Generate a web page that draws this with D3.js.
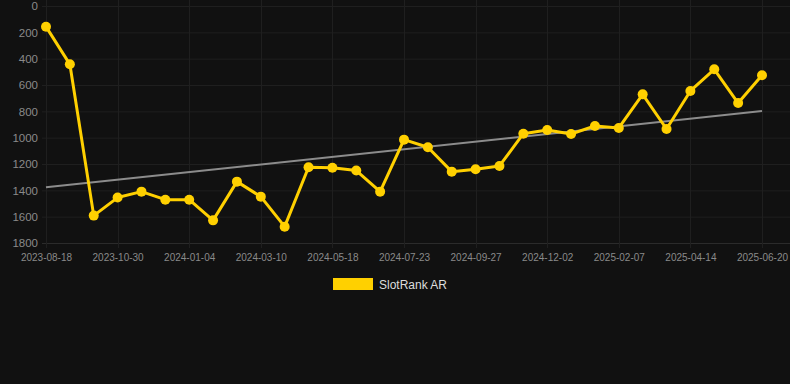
<!DOCTYPE html>
<html><head><meta charset="utf-8">
<script src="https://cdn.jsdelivr.net/npm/d3@7"></script>
<style>html,body{margin:0;padding:0;background:#111111;}svg{display:block;}</style>
</head><body>
<svg id="c" width="790" height="384"></svg>
<script>
const dates = ["2023-08-18","2023-09-12","2023-10-06","2023-10-30","2023-11-21","2023-12-13","2024-01-04","2024-01-26","2024-02-17","2024-03-10","2024-04-01","2024-04-25","2024-05-18","2024-06-09","2024-07-01","2024-07-23","2024-08-14","2024-09-05","2024-09-27","2024-10-19","2024-11-10","2024-12-02","2024-12-24","2025-01-15","2025-02-07","2025-03-01","2025-03-23","2025-04-14","2025-05-06","2025-05-28","2025-06-20"];
const ranks = [157,443,1592,1455,1410,1471,1471,1628,1334,1448,1676,1225,1228,1250,1410,1015,1073,1258,1240,1215,970,942,972,911,926,671,934,645,481,737,526];
const yTicks = [0,200,400,600,800,1000,1200,1400,1600,1800];
const seriesName = "SlotRank AR";

const svg = d3.select("#c");
const x = d3.scalePoint().domain(dates).range([46, 762]);
const y = d3.scaleLinear().domain([0, 1800]).range([6, 243]);

// grid
const g = svg.append("g");
g.selectAll("line.h").data(yTicks).join("line")
  .attr("x1", 42).attr("x2", 790)
  .attr("y1", d => y(d) + 0.5).attr("y2", d => y(d) + 0.5)
  .attr("stroke", d => d === 1800 ? "#2b2b2b" : "#1f1f1f").attr("stroke-width", 1);
const labelDates = dates.filter((d, i) => i % 3 === 0);
g.selectAll("line.v").data(labelDates).join("line")
  .attr("x1", d => Math.round(x(d)) + 0.5).attr("x2", d => Math.round(x(d)) + 0.5)
  .attr("y1", 0).attr("y2", 248)
  .attr("stroke", "#1f1f1f").attr("stroke-width", 1);

// y axis labels
const yAxis = d3.axisLeft(y).tickValues(yTicks).tickFormat(d3.format("d")).tickSize(0).tickPadding(0);
const ya = svg.append("g").attr("transform", "translate(38,0)").call(yAxis);
ya.select(".domain").remove();
ya.selectAll("text").attr("fill", "#8a8a8a").attr("font-family", "Liberation Sans, Arial, sans-serif").attr("font-size", 11.5);

// x axis labels
const xAxis = d3.axisBottom(x).tickValues(labelDates).tickSize(0).tickPadding(0);
const xa = svg.append("g").attr("transform", "translate(0,254)").call(xAxis);
xa.select(".domain").remove();
xa.selectAll("text").attr("fill", "#8a8a8a").attr("font-family", "Liberation Sans, Arial, sans-serif").attr("font-size", 10);

// trend line (least squares)
const n = ranks.length;
const mx = (n - 1) / 2, my = d3.mean(ranks);
let sxy = 0, sxx = 0;
ranks.forEach((v, i) => { sxy += (i - mx) * (v - my); sxx += (i - mx) * (i - mx); });
const slope = sxy / sxx, icpt = my - slope * mx;
svg.append("line")
  .attr("x1", x(dates[0])).attr("y1", y(icpt))
  .attr("x2", x(dates[n - 1])).attr("y2", y(icpt + slope * (n - 1)))
  .attr("stroke", "#8c8c8c").attr("stroke-width", 2);

// series line
const line = d3.line().x((d, i) => x(dates[i])).y(d => y(d));
svg.append("path").datum(ranks).attr("d", line)
  .attr("fill", "none").attr("stroke", "#FFD000").attr("stroke-width", 3).attr("stroke-linejoin", "round");
svg.selectAll("circle.p").data(ranks).join("circle")
  .attr("cx", (d, i) => x(dates[i])).attr("cy", d => y(d)).attr("r", 5)
  .attr("fill", "#FFD000");

// legend
svg.append("rect").attr("x", 333).attr("y", 278).attr("width", 40).attr("height", 12).attr("fill", "#FFD000");
svg.append("text").attr("x", 379).attr("y", 288.5).text(seriesName)
  .attr("fill", "#dddddd").attr("font-family", "Liberation Sans, Arial, sans-serif").attr("font-size", 12);
</script>
</body></html>
